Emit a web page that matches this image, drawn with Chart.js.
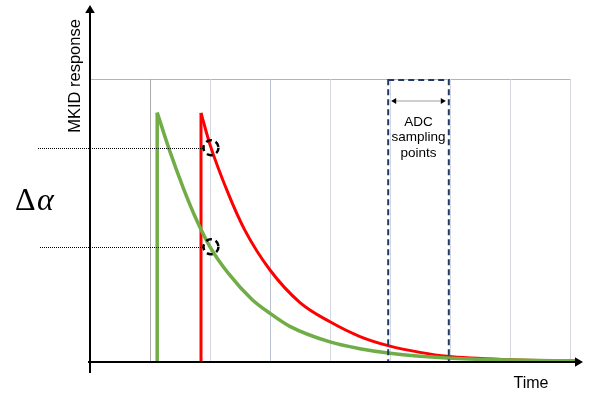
<!DOCTYPE html>
<html>
<head>
<meta charset="utf-8">
<script src="https://cdn.jsdelivr.net/npm/chart.js@4"></script>
<style>
  html, body { margin: 0; padding: 0; background: #fff; }
  #wrap { width: 590px; height: 393px; position: relative; }
</style>
</head>
<body>
<div id="wrap"><canvas id="chart"></canvas></div>
<script>
// values (time in grid units, response relative to top grid line)
const greenTime = [1.12, 1.12, 1.33, 1.56, 1.78, 2.0, 2.31, 2.7, 3.0, 3.33, 4.0, 4.5, 5.0, 5.95, 7.0, 8.08];
const greenResponse = [0, 0.881, 0.745, 0.612, 0.5, 0.407, 0.312, 0.221, 0.172, 0.126, 0.071, 0.047, 0.031, 0.014, 0.007, 0.004];

const redTime = [1.85, 1.85, 2.0, 2.31, 2.58, 3.0, 3.5, 4.0, 4.5, 5.0, 5.5, 5.95, 7.0, 8.08];
const redResponse = [0, 0.88, 0.768, 0.592, 0.466, 0.325, 0.21, 0.142, 0.09, 0.056, 0.034, 0.02, 0.008, 0.004];

const gridTimes = [1, 2, 3, 4, 5, 6, 7, 8];
const sampleTime = 2.0;
const sampleValues = [0.757, 0.407];
const adcWindow = [4.97, 5.98];
const adcLabel = ['ADC', 'sampling', 'points'];
const axisLabels = { y: 'MKID response', x: 'Time' };

const GREEN = '#70ad47';
const RED = '#ff0000';
const NAVY = '#1f3864';

function toPoints(xs, ys) {
  return xs.map((x, i) => ({ x: x, y: ys[i] }));
}

const greenPts = toPoints(greenTime, greenResponse);
const redPts = toPoints(redTime, redResponse);

function lineSet(data, color, width, smooth) {
  return {
    data: data,
    borderColor: color,
    borderWidth: width,
    pointRadius: 0,
    cubicInterpolationMode: smooth ? 'monotone' : 'default',
    tension: 0,
    fill: false,
    showLine: true,
    clip: false,
    borderCapStyle: 'butt',
    borderJoinStyle: 'round',
  };
}

function arrowHead(ctx, x, y, dir, size) {
  ctx.beginPath();
  if (dir === 'up') {
    ctx.moveTo(x, y);
    ctx.lineTo(x - size * 0.6, y + size);
    ctx.lineTo(x + size * 0.6, y + size);
  } else if (dir === 'right') {
    ctx.moveTo(x, y);
    ctx.lineTo(x - size, y - size * 0.6);
    ctx.lineTo(x - size, y + size * 0.6);
  } else {
    ctx.moveTo(x, y);
    ctx.lineTo(x + size, y - size * 0.6);
    ctx.lineTo(x + size, y + size * 0.6);
  }
  ctx.closePath();
  ctx.fill();
}

const diagram = {
  id: 'diagram',
  beforeDatasetsDraw(chart) {
    const { ctx, scales: { x, y } } = chart;
    const y0 = y.getPixelForValue(0);
    const y1 = y.getPixelForValue(1);
    ctx.save();
    ctx.lineWidth = 1;
    ctx.strokeStyle = '#b4b4b4';
    ctx.beginPath();
    ctx.moveTo(x.getPixelForValue(0), Math.round(y1) + 0.5);
    ctx.lineTo(x.getPixelForValue(8), Math.round(y1) + 0.5);
    ctx.stroke();
    gridTimes.forEach((t) => {
      const px = Math.round(x.getPixelForValue(t)) + 0.5;
      ctx.strokeStyle = t === 1 ? '#aaaaaa' : (t === 3 ? '#b9c0cf' : '#d4d7df');
      ctx.beginPath();
      ctx.moveTo(px, y1);
      ctx.lineTo(px, y0);
      ctx.stroke();
    });
    ctx.restore();
  },
  afterDatasetsDraw(chart) {
    const { ctx, scales: { x, y } } = chart;
    const y0 = y.getPixelForValue(0);
    const y1 = y.getPixelForValue(1);
    const ax = x.getPixelForValue(0);
    ctx.save();

    // ADC sampling window
    const bx0 = x.getPixelForValue(adcWindow[0]);
    const bx1 = x.getPixelForValue(adcWindow[1]);
    ctx.strokeStyle = NAVY;
    ctx.lineWidth = 2;
    ctx.setLineDash([6, 4]);
    ctx.strokeRect(bx0, y1 + 1, bx1 - bx0, y0 - y1 - 1);
    ctx.setLineDash([]);

    const ay = y1 + 22;
    ctx.strokeStyle = '#bfbfbf';
    ctx.lineWidth = 1.5;
    ctx.beginPath();
    ctx.moveTo(bx0 + 4, ay);
    ctx.lineTo(bx1 - 4, ay);
    ctx.stroke();
    ctx.fillStyle = '#000';
    arrowHead(ctx, bx0 + 3, ay, 'left', 5);
    arrowHead(ctx, bx1 - 3, ay, 'right', 5);

    ctx.font = '13.5px "Liberation Sans", Arial, sans-serif';
    ctx.textAlign = 'center';
    ctx.textBaseline = 'alphabetic';
    adcLabel.forEach((s, i) => {
      ctx.fillText(s, (bx0 + bx1) / 2, y1 + 47 + i * 15.5);
    });

    // axes
    ctx.strokeStyle = '#000';
    ctx.lineWidth = 2;
    ctx.beginPath();
    ctx.moveTo(ax, y0 + 11);
    ctx.lineTo(ax, 12);
    ctx.stroke();
    arrowHead(ctx, ax, 5, 'up', 8);
    ctx.beginPath();
    ctx.moveTo(ax - 2, y0);
    ctx.lineTo(chart.chartArea.right - 6, y0);
    ctx.stroke();
    arrowHead(ctx, chart.chartArea.right + 1, y0, 'right', 8);

    // sample markers with dotted guides
    const sx = x.getPixelForValue(sampleTime);
    const guideStart = [38, 40];
    sampleValues.forEach((v, i) => {
      const sy = y.getPixelForValue(v);
      ctx.strokeStyle = '#000';
      ctx.lineWidth = 1;
      ctx.setLineDash([1, 1]);
      ctx.beginPath();
      ctx.moveTo(guideStart[i], Math.round(sy) + 0.5);
      ctx.lineTo(sx - 7, Math.round(sy) + 0.5);
      ctx.stroke();
      ctx.lineWidth = 2.5;
      ctx.setLineDash([6, 4]);
      ctx.beginPath();
      ctx.arc(sx + 1, sy, 7.5, 0, Math.PI * 2);
      ctx.stroke();
    });
    ctx.setLineDash([]);

    // axis labels
    ctx.font = '16.5px "Liberation Sans", Arial, sans-serif';
    ctx.textAlign = 'center';
    ctx.textBaseline = 'middle';
    ctx.save();
    ctx.translate(75, 76);
    ctx.rotate(-Math.PI / 2);
    ctx.fillText(axisLabels.y, 0, 0);
    ctx.restore();
    ctx.textBaseline = 'alphabetic';
    ctx.font = '16px "Liberation Sans", Arial, sans-serif';
    ctx.fillText(axisLabels.x, 531, 388);

    // delta alpha
    ctx.textAlign = 'left';
    ctx.font = '32px "Liberation Serif", "DejaVu Serif", serif';
    ctx.fillText('Δ', 15, 210);
    ctx.font = 'italic 32px "Liberation Serif", "DejaVu Serif", serif';
    ctx.fillText('α', 37, 210);

    ctx.restore();
  },
};

new Chart(document.getElementById('chart'), {
  type: 'scatter',
  data: {
    datasets: [
      lineSet(greenPts.slice(0, 2), GREEN, 3.5, false),
      lineSet(greenPts.slice(1), GREEN, 3.5, true),
      lineSet(redPts.slice(0, 2), RED, 3, false),
      lineSet(redPts.slice(1), RED, 3, true),
    ],
  },
  options: {
    responsive: true,
    maintainAspectRatio: false,
    devicePixelRatio: 1,
    animation: false,
    layout: { padding: { left: 90, right: 8, top: 11, bottom: 31 } },
    plugins: { legend: { display: false }, tooltip: { enabled: false } },
    scales: {
      x: { type: 'linear', min: 0, max: 8.2, display: false },
      y: { type: 'linear', min: 0, max: 1.24, display: false },
    },
  },
  plugins: [diagram],
});
</script>
</body>
</html>
